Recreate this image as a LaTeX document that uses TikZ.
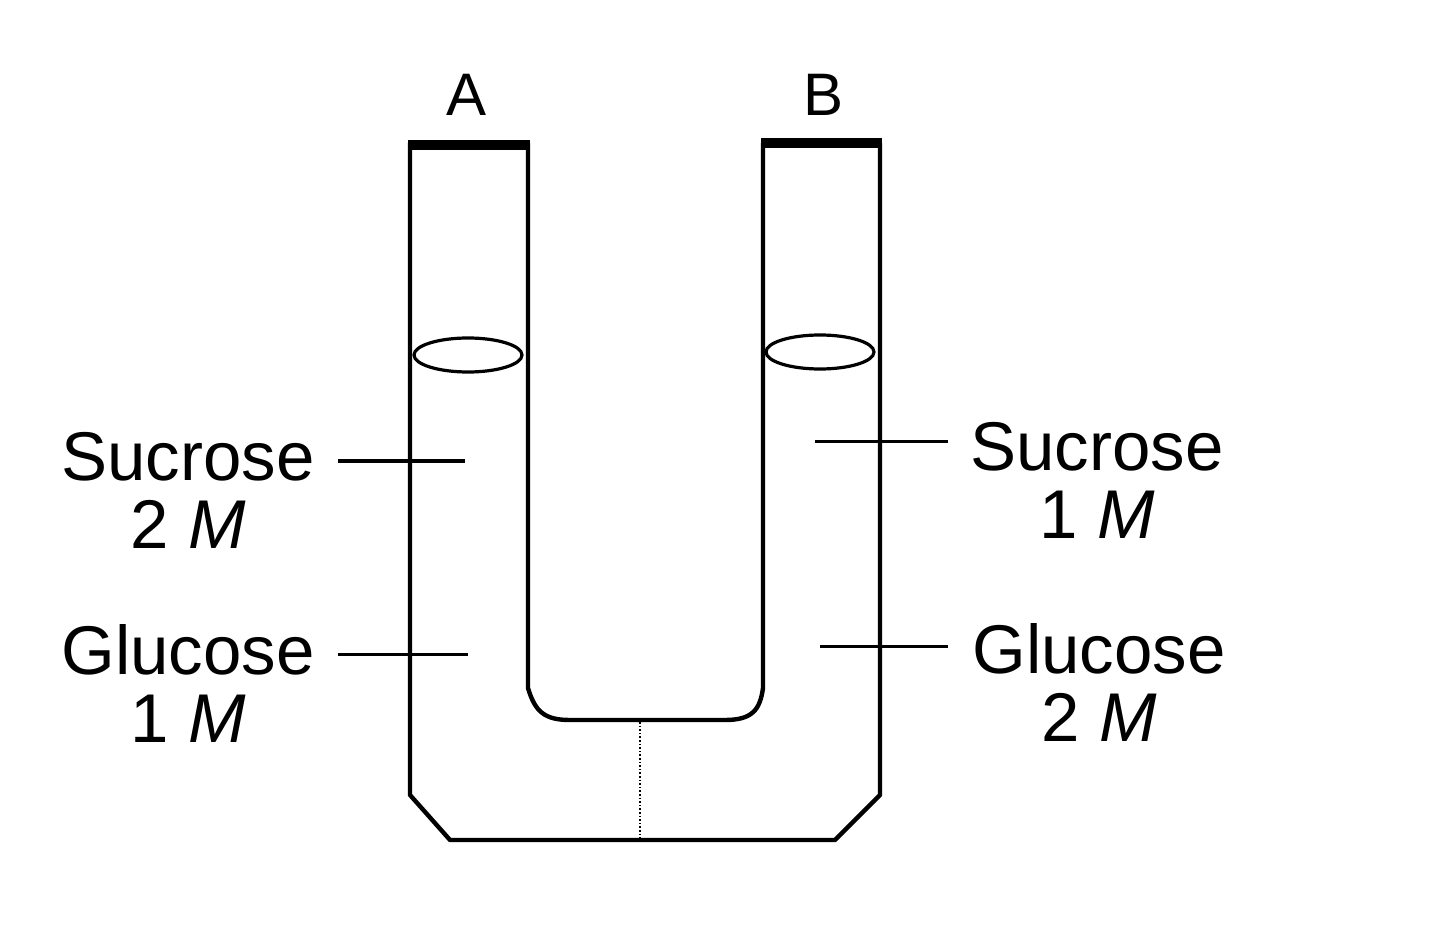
\documentclass[tikz,border=0pt]{standalone}
\usepackage{fontspec}
\setmainfont{Liberation Sans}
\begin{document}
\begin{tikzpicture}[x=0.5pt,y=-0.5pt,
  tube/.style={line width=2.2pt,line join=round},
  lbl/.style={font=\fontsize{34.5}{34}\selectfont,align=center},
  ptr/.style={line width=1.5pt}]
\useasboundingbox (0,0) rectangle (1440,946);
% outer tube
\draw[tube] (410,143) -- (410,795) -- (450,840) -- (835,840) -- (880,795) -- (880,143);
% inner
\draw[tube] (528,143) -- (528,688) .. controls (535,712) and (545,720) .. (570,720) -- (725,720) .. controls (752,720) and (760,710) .. (763,688) -- (763,143);
% caps
\draw[line width=5pt] (408,145) -- (530,145);
\draw[line width=5pt] (761,143) -- (882,143);
% menisci
\draw[line width=1.6pt] (468,355) ellipse (54 and 17);
\draw[line width=1.6pt] (820,352) ellipse (54 and 17);
% membrane
\draw[densely dotted,line width=0.8pt] (640,722) -- (640,838);
% labels
\node[lbl,font=\fontsize{30}{34}\selectfont] (A) at (467,95) {A};
\node[lbl,font=\fontsize{30}{34}\selectfont] (B) at (823,95) {B};
\node[lbl] (s1) at (188,490) {Sucrose\\2 \textit{M}};
\node[lbl] (g1) at (188,683) {Glucose\\1 \textit{M}};
\node[lbl] (s2) at (1097,480) {Sucrose\\1 \textit{M}};
\node[lbl] (g2) at (1099,682) {Glucose\\2 \textit{M}};
\coordinate (ps1) at (465,461);
\coordinate (pg1) at (468,654);
\coordinate (ps2) at (815,442);
\coordinate (pg2) at (820,646);
\draw[ptr] (338,461) -- (ps1);
\draw[ptr] (338,654) -- (pg1);
\draw[ptr] (948,442) -- (ps2);
\draw[ptr] (948,646) -- (pg2);
\end{tikzpicture}
\end{document}
